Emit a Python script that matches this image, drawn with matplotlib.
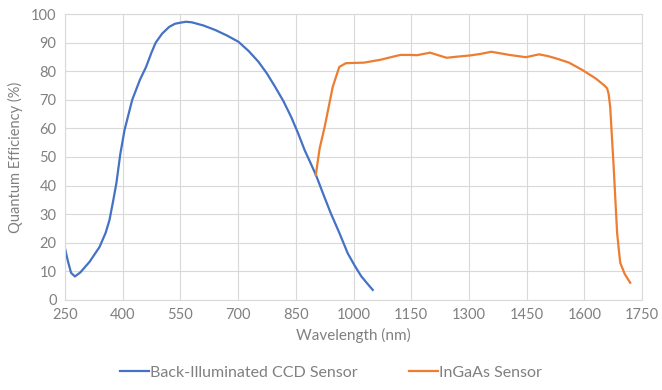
import matplotlib.pyplot as plt
import numpy as np

plt.rcParams['font.family'] = ['Lato', 'DejaVu Sans']

# Back-illuminated CCD curve
ccd_wl = [250, 258, 266, 276, 290, 314, 340, 356, 366, 376, 384, 394, 405, 425, 445,
          461, 475, 486, 503, 521, 536, 551, 565, 580, 610, 641, 671, 701, 728, 753,
          775, 796, 818, 838, 856, 873, 888, 903, 922, 941, 963, 985, 1003, 1020,
          1036, 1050]
ccd_qe = [18.2, 13.5, 9.5, 8.2, 9.6, 13.3, 18.5, 23.5, 28, 35, 41, 51, 59.4, 70, 77,
          81.5, 86.5, 90, 93.2, 95.5, 96.6, 97, 97.3, 97.1, 96, 94.4, 92.5, 90.3, 87,
          83.3, 79.2, 74.6, 69.5, 64, 58.3, 52.4, 48, 43.5, 36.8, 30.3, 23.5, 16.3,
          12, 8.3, 5.7, 3.5]

# InGaAs curve
ingaas_wl = [902, 912, 925, 946, 963, 980, 1000, 1027, 1070, 1100, 1122, 1145, 1165,
             1199, 1220, 1242, 1270, 1302, 1328, 1358, 1380, 1405, 1448, 1482, 1505,
             1526, 1560, 1595, 1629, 1652, 1659, 1663, 1667, 1676, 1685, 1693, 1705,
             1719]
ingaas_qe = [43.7, 53, 60.5, 74.5, 81.5, 82.8, 82.9, 83, 84, 85, 85.7, 85.7, 85.6,
             86.5, 85.6, 84.7, 85.1, 85.5, 86, 86.8, 86.3, 85.7, 84.9, 85.9, 85.3,
             84.5, 83, 80.4, 77.5, 75, 74, 72, 67.5, 46.5, 23.4, 13, 9, 6]

xticks = np.arange(250, 1751, 150)
yticks = np.arange(0, 101, 10)

gray = '#808080'

fig = plt.figure(figsize=(6.62, 3.90), dpi=100)
ax = fig.add_axes([0.098, 0.231, 0.872, 0.733])

ax.plot(ccd_wl, ccd_qe, color='#4472C4', lw=1.6, label='Back-Illuminated CCD Sensor')
ax.plot(ingaas_wl, ingaas_qe, color='#ED7D31', lw=1.6, label='InGaAs Sensor')

ax.set_xlim(250, 1750)
ax.set_ylim(0, 100)
ax.set_xticks(xticks)
ax.set_yticks(yticks)
ax.grid(True, color='#d9d9d9', lw=0.8)
ax.set_axisbelow(True)
for s in ax.spines.values():
    s.set_color('#d9d9d9')
ax.tick_params(length=0, labelsize=10.5, colors=gray, pad=6)

ax.set_xlabel('Wavelength (nm)', color=gray, fontsize=11, labelpad=4)
ax.set_ylabel('Quantum Efficiency (%)', color=gray, fontsize=10.5, labelpad=6)

leg = fig.legend(loc='lower center', bbox_to_anchor=(0.5, -0.01), ncol=2, frameon=False,
                 fontsize=11.5, handlelength=1.8, handletextpad=0.1, columnspacing=3.2)
for t in leg.get_texts():
    t.set_color(gray)

fig.savefig('out.png', dpi=100)
